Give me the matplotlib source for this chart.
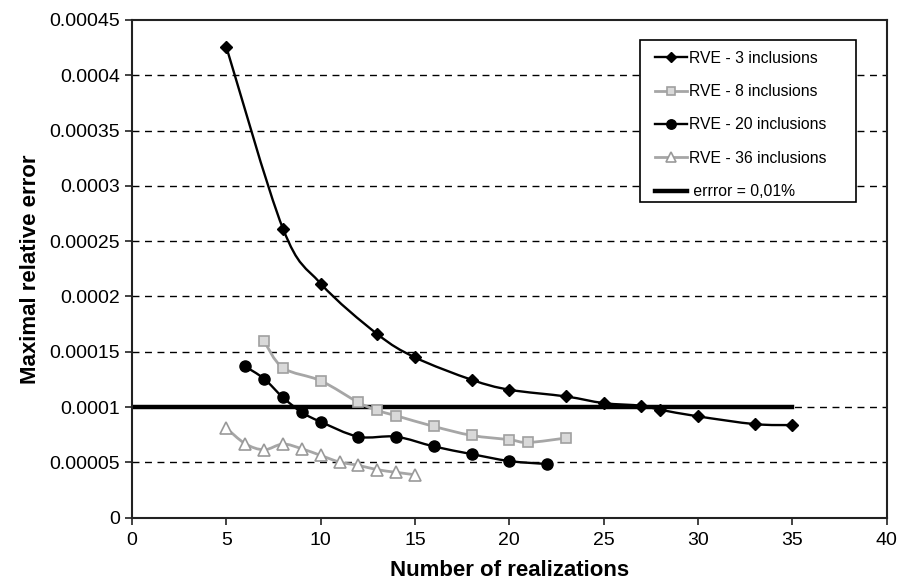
import matplotlib.pyplot as plt
from matplotlib.path import Path
from matplotlib.patches import PathPatch, Rectangle
from matplotlib.lines import Line2D
import numpy as np

plt.rcParams['font.family'] = ['Liberation Sans', 'DejaVu Sans']

x3 = [5, 8, 10, 13, 15, 18, 20, 23, 25, 27, 28, 30, 33, 35]
y3 = [0.0004256, 0.0002614, 0.0002117, 0.000166, 0.0001449, 0.0001247, 0.0001157,
      0.0001096, 0.0001036, 0.0001012, 0.0000976, 0.0000916, 0.0000846, 0.0000837]

x8 = [7, 8, 10, 12, 13, 14, 16, 18, 20, 21, 23]
y8 = [0.0001596, 0.0001355, 0.0001238, 0.0001042, 0.000097, 0.0000922, 0.0000825,
      0.0000744, 0.0000705, 0.000068, 0.000072]

x20 = [6, 7, 8, 9, 10, 12, 14, 16, 18, 20, 22]
y20 = [0.0001367, 0.0001256, 0.0001087, 0.0000952, 0.0000867, 0.0000732, 0.0000732,
       0.0000644, 0.0000575, 0.0000512, 0.0000485]

x36 = [5, 6, 7, 8, 9, 10, 11, 12, 13, 14, 15]
y36 = [0.000081, 0.0000669, 0.0000614, 0.0000666, 0.0000623, 0.0000563, 0.0000503,
       0.0000473, 0.0000434, 0.000041, 0.0000388]

err_x = [0, 35]
err_y = [0.0001, 0.0001]

ytick_labels = ['0', '0.00005', '0.0001', '0.00015', '0.0002', '0.00025',
                '0.0003', '0.00035', '0.0004', '0.00045']


def smooth_path(xs, ys):
    # Excel-style smoothed line: cubic bezier through points (Catmull-Rom tangents)
    p = np.column_stack([xs, ys]).astype(float)
    n = len(p)
    verts = [p[0]]
    codes = [Path.MOVETO]
    for i in range(n - 1):
        p0 = p[i - 1] if i > 0 else p[i]
        p3 = p[i + 2] if i + 2 < n else p[i + 1]
        c1 = p[i] + (p[i + 1] - p0) / 6
        c2 = p[i + 1] - (p3 - p[i]) / 6
        verts += [c1, c2, p[i + 1]]
        codes += [Path.CURVE4] * 3
    return Path(verts, codes)


fig = plt.figure(figsize=(8.98, 5.81), dpi=100)
ax = fig.add_axes([0.147, 0.109, 0.8404, 0.8566])

series = [
    (x3, y3, 'RVE - 3 inclusions', dict(color='black', lw=1.7, marker='D', ms=6.5,
                                        mfc='black', mec='black')),
    (x8, y8, 'RVE - 8 inclusions', dict(color='#a6a6a6', lw=2, marker='s', ms=7.5,
                                        mfc='#d9d9d9', mec='#a0a0a0', mew=1.2)),
    (x20, y20, 'RVE - 20 inclusions', dict(color='black', lw=1.7, marker='o', ms=8,
                                         mfc='black', mec='black')),
    (x36, y36, 'RVE - 36 inclusions', dict(color='#a6a6a6', lw=2, marker='^', ms=8.5,
                                         mfc='white', mec='#999999', mew=1.2)),
]

handles = []
for xs, ys, label, st in series:
    ax.add_patch(PathPatch(smooth_path(xs, ys), fill=False, edgecolor=st['color'],
                           lw=st['lw'], zorder=3))
    ax.plot(xs, ys, ls='none', marker=st['marker'], ms=st['ms'], mfc=st['mfc'],
            mec=st['mec'], mew=st.get('mew', 1), zorder=4)
    handles.append(Line2D([], [], color=st['color'], lw=st['lw'], marker=st['marker'],
                          ms=st['ms'] * 0.85, mfc=st['mfc'], mec=st['mec'],
                          mew=st.get('mew', 1), label=label))

ax.plot(err_x, err_y, color='black', lw=3.2, zorder=2)
handles.append(Line2D([], [], color='black', lw=3.2, label=' errror = 0,01%'))

ax.set_xlim(0, 40)
ax.set_ylim(0, 0.00045)
ax.set_xticks(np.arange(0, 41, 5))
yt = np.arange(0, 0.000451, 0.00005)
ax.set_yticks(yt)
ax.set_yticklabels(ytick_labels)
for v in yt[1:-1]:
    ax.axhline(v, color='black', lw=1, ls=(0, (5, 4)), zorder=1)

ax.tick_params(axis='both', labelsize=14, direction='out', length=5, width=1.2,
               color='#222222')
ax.tick_params(axis='x', pad=5)
for s in ax.spines.values():
    s.set_linewidth(1.5)
    s.set_color('#222222')

ax.set_xlabel('Number of realizations', fontsize=16, fontweight='bold', labelpad=8)
ax.set_ylabel('Maximal relative error', fontsize=16, fontweight='bold', labelpad=6)

# legend frame drawn separately (Excel box has more room on the right)
ax.add_patch(Rectangle((0.673, 0.6345), 0.9593 - 0.673, 0.9598 - 0.6345,
                       transform=ax.transAxes, facecolor='white', edgecolor='black',
                       lw=1.2, zorder=5))
leg = ax.legend(handles=handles, loc='upper left', bbox_to_anchor=(0.685, 0.951),
                borderaxespad=0, fontsize=11.3, frameon=False,
                handlelength=2.0, labelspacing=1.17, borderpad=0.4,
                handletextpad=0.15)
leg.set_zorder(6)

fig.savefig('out.png', dpi=100)
plt.close(fig)
